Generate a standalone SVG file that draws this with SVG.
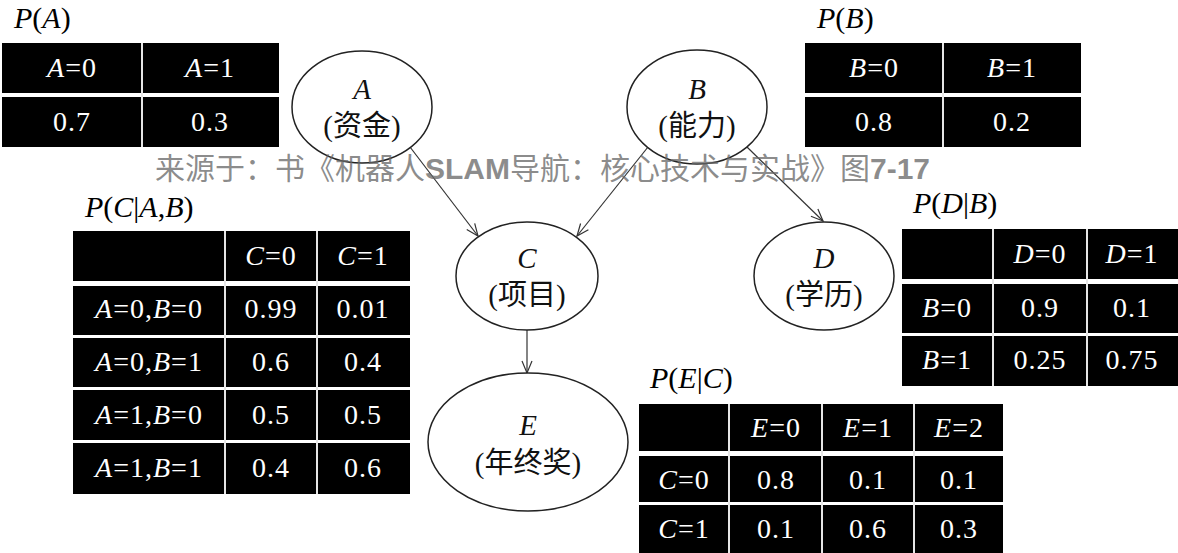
<svg xmlns="http://www.w3.org/2000/svg" width="1178" height="553" viewBox="0 0 1178 553">
<defs>
<style>
.row{fill:#000}
.vl{stroke:#e6e6e6;stroke-width:2}
.t{font-family:"Liberation Serif","Times New Roman",serif;font-size:28px;fill:#fff;text-anchor:middle;letter-spacing:1px}
.i{font-style:italic}
.lbl{font-family:"Liberation Serif","Times New Roman",serif;font-size:30px;fill:#000}
.node ellipse{fill:#fff;stroke:#222;stroke-width:1.5}
.nt{font-family:"Liberation Serif","Noto Sans CJK SC",serif;font-size:29px;fill:#111;text-anchor:middle}
.edge{stroke:#333;stroke-width:1.2;fill:none;marker-end:url(#arr)}
.wm{font-family:"Noto Sans CJK SC",sans-serif;font-size:30px;fill:#666;fill-opacity:0.75}
.wmb{font-family:"Liberation Sans",Arial,sans-serif;font-weight:bold}
</style>
<marker id="arr" viewBox="0 0 12 10" markerWidth="12" markerHeight="10" refX="12" refY="5" orient="auto" markerUnits="userSpaceOnUse" overflow="visible">
<path d="M0,0 L12,5 L0,10" fill="none" stroke="#333" stroke-width="1.2"/>
</marker>
</defs>
<rect width="1178" height="553" fill="#fff"/>

<g id="table-PA">
<text class="lbl" x="14" y="28"><tspan class="i">P</tspan>(<tspan class="i">A</tspan>)</text>
<rect class="row" x="2" y="43" width="277" height="50"/>
<rect class="row" x="2" y="97" width="277" height="50"/>
<line class="vl" x1="142" y1="43" x2="142" y2="147"/>
<text class="t" x="72" y="77"><tspan class="i">A</tspan>=0</text>
<text class="t" x="210" y="77"><tspan class="i">A</tspan>=1</text>
<text class="t" x="72" y="131">0.7</text>
<text class="t" x="210" y="131">0.3</text>
</g>

<g id="table-PB">
<text class="lbl" x="817" y="28"><tspan class="i">P</tspan>(<tspan class="i">B</tspan>)</text>
<rect class="row" x="805" y="43" width="276" height="50"/>
<rect class="row" x="805" y="97" width="276" height="50"/>
<line class="vl" x1="943" y1="43" x2="943" y2="147"/>
<text class="t" x="874" y="77"><tspan class="i">B</tspan>=0</text>
<text class="t" x="1012" y="77"><tspan class="i">B</tspan>=1</text>
<text class="t" x="874" y="131">0.8</text>
<text class="t" x="1012" y="131">0.2</text>
</g>

<g id="table-PC">
<text class="lbl" x="85" y="217"><tspan class="i">P</tspan>(<tspan class="i">C</tspan>|<tspan class="i">A</tspan>,<tspan class="i">B</tspan>)</text>
<rect class="row" x="73" y="231" width="337" height="50"/>
<rect class="row" x="73" y="286" width="337" height="49"/>
<rect class="row" x="73" y="338" width="337" height="49"/>
<rect class="row" x="73" y="390" width="337" height="50"/>
<rect class="row" x="73" y="443" width="337" height="51"/>
<line class="vl" x1="225" y1="231" x2="225" y2="494"/>
<line class="vl" x1="317" y1="231" x2="317" y2="494"/>
<text class="t" x="271" y="265"><tspan class="i">C</tspan>=0</text>
<text class="t" x="363" y="265"><tspan class="i">C</tspan>=1</text>
<text class="t" x="149" y="318"><tspan class="i">A</tspan>=0,<tspan class="i">B</tspan>=0</text>
<text class="t" x="271" y="318">0.99</text>
<text class="t" x="363" y="318">0.01</text>
<text class="t" x="149" y="371"><tspan class="i">A</tspan>=0,<tspan class="i">B</tspan>=1</text>
<text class="t" x="271" y="371">0.6</text>
<text class="t" x="363" y="371">0.4</text>
<text class="t" x="149" y="424"><tspan class="i">A</tspan>=1,<tspan class="i">B</tspan>=0</text>
<text class="t" x="271" y="424">0.5</text>
<text class="t" x="363" y="424">0.5</text>
<text class="t" x="149" y="477"><tspan class="i">A</tspan>=1,<tspan class="i">B</tspan>=1</text>
<text class="t" x="271" y="477">0.4</text>
<text class="t" x="363" y="477">0.6</text>
</g>

<g id="table-PD">
<text class="lbl" x="913" y="213"><tspan class="i">P</tspan>(<tspan class="i">D</tspan>|<tspan class="i">B</tspan>)</text>
<rect class="row" x="902" y="229" width="276" height="50"/>
<rect class="row" x="902" y="284" width="276" height="49"/>
<rect class="row" x="902" y="336" width="276" height="50"/>
<line class="vl" x1="993" y1="229" x2="993" y2="386"/>
<line class="vl" x1="1087" y1="229" x2="1087" y2="386"/>
<text class="t" x="1040" y="263"><tspan class="i">D</tspan>=0</text>
<text class="t" x="1132" y="263"><tspan class="i">D</tspan>=1</text>
<text class="t" x="947" y="317"><tspan class="i">B</tspan>=0</text>
<text class="t" x="1040" y="317">0.9</text>
<text class="t" x="1132" y="317">0.1</text>
<text class="t" x="947" y="369"><tspan class="i">B</tspan>=1</text>
<text class="t" x="1040" y="369">0.25</text>
<text class="t" x="1132" y="369">0.75</text>
</g>

<g id="table-PE">
<text class="lbl" x="650" y="388"><tspan class="i">P</tspan>(<tspan class="i">E</tspan>|<tspan class="i">C</tspan>)</text>
<rect class="row" x="639" y="404" width="364" height="47"/>
<rect class="row" x="639" y="456" width="364" height="46"/>
<rect class="row" x="639" y="505" width="364" height="48"/>
<line class="vl" x1="729" y1="404" x2="729" y2="553"/>
<line class="vl" x1="822" y1="404" x2="822" y2="553"/>
<line class="vl" x1="914" y1="404" x2="914" y2="553"/>
<text class="t" x="776" y="437"><tspan class="i">E</tspan>=0</text>
<text class="t" x="868" y="437"><tspan class="i">E</tspan>=1</text>
<text class="t" x="959" y="437"><tspan class="i">E</tspan>=2</text>
<text class="t" x="684" y="489"><tspan class="i">C</tspan>=0</text>
<text class="t" x="776" y="489">0.8</text>
<text class="t" x="868" y="489">0.1</text>
<text class="t" x="959" y="489">0.1</text>
<text class="t" x="684" y="538"><tspan class="i">C</tspan>=1</text>
<text class="t" x="776" y="538">0.1</text>
<text class="t" x="868" y="538">0.6</text>
<text class="t" x="959" y="538">0.3</text>
</g>

<g id="connectors">
<line class="edge" x1="410" y1="147" x2="478" y2="236"/>
<line class="edge" x1="648" y1="147" x2="577" y2="236"/>
<line class="edge" x1="747" y1="147" x2="823" y2="221"/>
<line class="edge" x1="527" y1="330" x2="527" y2="373"/>
</g>

<g id="node-A" class="node">
<ellipse cx="362" cy="107" rx="70" ry="56"/>
<text class="nt" x="362" y="99"><tspan class="i">A</tspan></text>
<text class="nt" x="362" y="136">(资金)</text>
</g>
<g id="node-B" class="node">
<ellipse cx="697" cy="107" rx="70" ry="57"/>
<text class="nt" x="697" y="99"><tspan class="i">B</tspan></text>
<text class="nt" x="697" y="136">(能力)</text>
</g>
<g id="node-C" class="node">
<ellipse cx="527" cy="276" rx="71" ry="54"/>
<text class="nt" x="527" y="268"><tspan class="i">C</tspan></text>
<text class="nt" x="527" y="305">(项目)</text>
</g>
<g id="node-D" class="node">
<ellipse cx="824" cy="276" rx="70" ry="54"/>
<text class="nt" x="824" y="268"><tspan class="i">D</tspan></text>
<text class="nt" x="824" y="305">(学历)</text>
</g>
<g id="node-E" class="node">
<ellipse cx="528" cy="442" rx="100" ry="69"/>
<text class="nt" x="528" y="435"><tspan class="i">E</tspan></text>
<text class="nt" x="528" y="473">(年终奖)</text>
</g>

<text class="wm" x="155" y="179">来源于：书《机器人<tspan class="wmb">SLAM</tspan>导航：核心技术与实战》图<tspan class="wmb">7-17</tspan></text>
</svg>
